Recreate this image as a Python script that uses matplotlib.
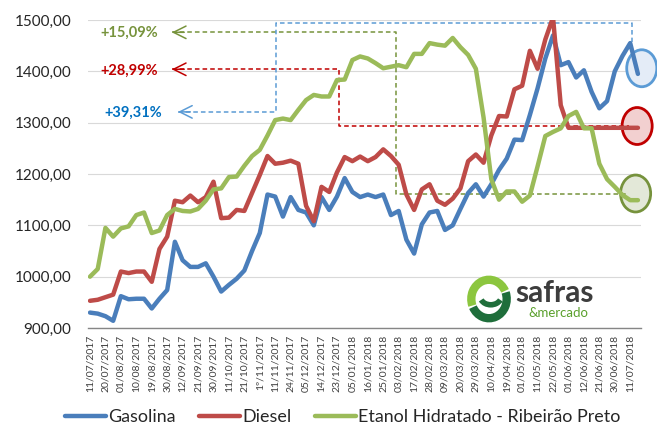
import numpy as np
import matplotlib
matplotlib.use('Agg')
import matplotlib.pyplot as plt
from matplotlib.patches import Ellipse, Arc
from matplotlib.ticker import FuncFormatter

plt.rcParams['font.family'] = ['Lato', 'DejaVu Sans']

# rótulos do eixo x (uma data a cada 2 pontos da série)
datas = ['11/07/2017', '20/07/2017', '01/08/2017', '10/08/2017', '19/08/2017',
         '30/08/2017', '12/09/2017', '21/09/2017', '30/09/2017', '11/10/2017',
         '21/10/2017', '1º/11/2017', '11/11/2017', '24/11/2017', '05/12/2017',
         '14/12/2017', '23/12/2017', '05/01/2018', '16/01/2018', '25/01/2018',
         '03/02/2018', '17/02/2018', '28/02/2018', '09/03/2018', '20/03/2018',
         '29/03/2018', '10/04/2018', '19/04/2018', '01/05/2018', '11/05/2018',
         '22/05/2018', '01/06/2018', '12/06/2018', '21/06/2018', '30/06/2018',
         '11/07/2018']

gasolina = [930, 928, 923, 914, 962, 956, 957, 957, 938, 957,
            974, 1068, 1032, 1019, 1019, 1026, 1000, 971, 984, 996,
            1012, 1050, 1085, 1160, 1156, 1117, 1155, 1130, 1125, 1100,
            1155, 1130, 1156, 1192, 1165, 1155, 1160, 1155, 1160, 1120,
            1128, 1072, 1045, 1102, 1125, 1128, 1091, 1100, 1132, 1163,
            1180, 1156, 1180, 1208, 1230, 1267, 1266, 1315, 1367, 1425,
            1470, 1412, 1418, 1388, 1402, 1360, 1328, 1342, 1400, 1430,
            1455, 1395]

diesel = [953, 955, 960, 965, 1010, 1007, 1010, 1010, 990, 1054,
          1078, 1148, 1145, 1158, 1145, 1155, 1185, 1114, 1115, 1130,
          1128, 1163, 1198, 1235, 1220, 1222, 1226, 1220, 1138, 1108,
          1175, 1165, 1203, 1233, 1225, 1234, 1225, 1233, 1248, 1235,
          1218, 1160, 1130, 1170, 1180, 1148, 1140, 1152, 1172, 1225,
          1238, 1222, 1275, 1313, 1312, 1365, 1372, 1440, 1405, 1462,
          1505, 1334, 1290, 1290, 1290, 1290, 1290, 1290, 1290, 1290,
          1290, 1290]

etanol = [1000, 1015, 1095, 1078, 1094, 1098, 1120, 1125, 1085, 1090,
          1120, 1132, 1128, 1127, 1132, 1148, 1170, 1172, 1194, 1195,
          1216, 1235, 1247, 1275, 1305, 1308, 1305, 1325, 1344, 1354,
          1351, 1351, 1383, 1384, 1422, 1429, 1425, 1416, 1406, 1409,
          1412, 1408, 1434, 1434, 1455, 1452, 1450, 1465, 1447, 1432,
          1405, 1310, 1190, 1150, 1166, 1166, 1146, 1158, 1215, 1274,
          1282, 1289, 1313, 1321, 1289, 1289, 1220, 1190, 1175, 1159,
          1149, 1149]

variacoes = ['+15,09%', '+28,99%', '+39,31%']

azul, vermelho, verde = '#4a7ebb', '#be4b48', '#9bbb59'

fig = plt.figure(figsize=(6.57, 4.32), dpi=100)
ax = fig.add_axes([88 / 657, 104 / 432, 553 / 657, 308 / 432])

x = np.arange(len(gasolina))
ax.plot(x, gasolina, color=azul, lw=3.2, label='Gasolina', zorder=4, solid_capstyle='round')
ax.plot(x, diesel, color=vermelho, lw=3.2, label='Diesel', zorder=4, solid_capstyle='round')
ax.plot(x, etanol, color=verde, lw=3.2, label='Etanol Hidratado - Ribeirão Preto', zorder=4,
        solid_capstyle='round')

ax.set_xlim(-0.26, 71.4)
ax.set_ylim(900, 1500)
ax.set_yticks(np.arange(900, 1501, 100))
ax.yaxis.set_major_formatter(FuncFormatter(lambda v, p: f'{v:.2f}'.replace('.', ',')))
ax.set_xticks(x[::2])
ax.set_xticklabels(datas, rotation=90, fontsize=7.5, color='#404040')
ax.tick_params(axis='y', length=0, pad=12, labelsize=11, labelcolor='#262626')
ax.tick_params(axis='x', length=0, pad=5)
ax.grid(axis='y', color='#d9d9d9', lw=0.8, zorder=0)
for s in ['top', 'right', 'left']:
    ax.spines[s].set_visible(False)
ax.spines['bottom'].set_color('#868686')
ax.spines['bottom'].set_linewidth(1)

# linhas tracejadas com setas
tr = dict(lw=1.1, ls=(0, (3, 2)), zorder=3)
ax.plot([10.6, 39.6, 39.6, 69.5], [1476, 1476, 1162, 1162], color='#77933c', **tr)
ax.plot([10.6, 32.3, 32.3, 69.8], [1404, 1404, 1293.5, 1293.5], color='#c00000', **tr)
ax.plot([11.4, 24.1, 24.1, 70.2, 70.2], [1321, 1321, 1494, 1494, 1458], color='#5b9bd5', **tr)

for (xt, yt, cor) in [(10.6, 1476, '#77933c'), (10.6, 1404, '#c00000'), (11.4, 1321, '#5b9bd5')]:
    ax.annotate('', xy=(xt, yt), xytext=(xt + 1.6, yt),
                arrowprops=dict(arrowstyle='->,head_length=0.9,head_width=0.45',
                                color=cor, lw=1.1, shrinkA=0, shrinkB=0))

ax.text(1.3, 1476, variacoes[0], color='#77933c', fontsize=10.5, fontweight='bold', va='center')
ax.text(1.3, 1402, variacoes[1], color='#c00000', fontsize=10.5, fontweight='bold', va='center')
ax.text(1.8, 1319, variacoes[2], color='#0070c0', fontsize=10.5, fontweight='bold', va='center')

# círculos no final das séries
for (cx, cy, fc, ec) in [(71.5, 1406, '#e4ecf7', '#5b9bd5'),
                         (70.9, 1293.5, '#f2d0d0', '#c00000'),
                         (70.7, 1162, '#e3e8d8', '#76923c')]:
    ax.add_patch(Ellipse((cx, cy), 3.9, 72, facecolor=fc, edgecolor=ec, lw=2,
                         zorder=2, clip_on=False))

leg = fig.legend(loc='center', bbox_to_anchor=(0.522, 0.035), ncol=3, frameon=False,
                 fontsize=12.9, handlelength=2.3, handletextpad=0.12, columnspacing=1.3)
for t in leg.get_texts():
    t.set_color('#262626')

# logo safras & mercado
ax_logo = fig.add_axes([466 / 657, 108 / 432, 46 / 657, 50 / 432])
ax_logo.set_xlim(-1.3, 1.3)
ax_logo.set_ylim(-1.3, 1.3)
ax_logo.axis('off')
ax_logo.add_patch(Arc((0, 0), 2.0, 2.0, theta1=25, theta2=200, color='#8cc63f', lw=6))
ax_logo.add_patch(Arc((0, 0), 2.0, 2.0, theta1=205, theta2=380, color='#1f6e3b', lw=6))
ax_logo.add_patch(Arc((0.1, 0.15), 1.2, 0.9, theta1=200, theta2=340, color='#1f6e3b', lw=4))
fig.text(515 / 657, 1 - 302 / 432, 'safras', fontsize=21.5, fontweight='bold',
         color='#3d3d3d', va='baseline', ha='left')
fig.text(528 / 657, 1 - 317 / 432, '&mercado', fontsize=9.5, color='#5aa02c',
         va='baseline', ha='left')

fig.savefig('out.png', dpi=100)
